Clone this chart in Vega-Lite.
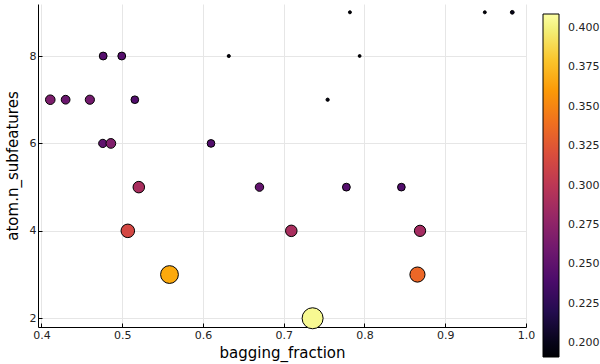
{
  "$schema": "https://vega.github.io/schema/vega-lite/v6.json",
  "autosize": "none",
  "width": 488,
  "height": 323,
  "padding": {"left": 38, "top": 4, "right": 74, "bottom": 37},
  "background": "white",
  "config": {
    "font": "DejaVu Sans",
    "view": {"stroke": null},
    "axis": {
      "domainColor": "black",
      "domainWidth": 1,
      "gridColor": "#e6e6e6",
      "gridWidth": 1,
      "tickColor": "black",
      "labelColor": "#222222",
      "labelFontSize": 11,
      "titleFontSize": 15,
      "titleFontWeight": "normal",
      "titleColor": "black"
    }
  },
  "data": {
    "values": [
      {"bagging_fraction": 0.4765, "n_subfeatures": 8, "loss": 0.245},
      {"bagging_fraction": 0.4995, "n_subfeatures": 8, "loss": 0.245},
      {"bagging_fraction": 0.632, "n_subfeatures": 8, "loss": 0.197},
      {"bagging_fraction": 0.411, "n_subfeatures": 7, "loss": 0.266},
      {"bagging_fraction": 0.430, "n_subfeatures": 7, "loss": 0.256},
      {"bagging_fraction": 0.460, "n_subfeatures": 7, "loss": 0.261},
      {"bagging_fraction": 0.5157, "n_subfeatures": 7, "loss": 0.243},
      {"bagging_fraction": 0.476, "n_subfeatures": 6, "loss": 0.250},
      {"bagging_fraction": 0.486, "n_subfeatures": 6, "loss": 0.268},
      {"bagging_fraction": 0.610, "n_subfeatures": 6, "loss": 0.243},
      {"bagging_fraction": 0.782, "n_subfeatures": 9, "loss": 0.196},
      {"bagging_fraction": 0.794, "n_subfeatures": 8, "loss": 0.195},
      {"bagging_fraction": 0.7544, "n_subfeatures": 7, "loss": 0.198},
      {"bagging_fraction": 0.949, "n_subfeatures": 9, "loss": 0.196},
      {"bagging_fraction": 0.983, "n_subfeatures": 9, "loss": 0.202},
      {"bagging_fraction": 0.5206, "n_subfeatures": 5, "loss": 0.290},
      {"bagging_fraction": 0.670, "n_subfeatures": 5, "loss": 0.252},
      {"bagging_fraction": 0.7776, "n_subfeatures": 5, "loss": 0.245},
      {"bagging_fraction": 0.8457, "n_subfeatures": 5, "loss": 0.243},
      {"bagging_fraction": 0.507, "n_subfeatures": 4, "loss": 0.315},
      {"bagging_fraction": 0.7094, "n_subfeatures": 4, "loss": 0.290},
      {"bagging_fraction": 0.8688, "n_subfeatures": 4, "loss": 0.287},
      {"bagging_fraction": 0.5586, "n_subfeatures": 3, "loss": 0.367},
      {"bagging_fraction": 0.8656, "n_subfeatures": 3, "loss": 0.335},
      {"bagging_fraction": 0.7358, "n_subfeatures": 2, "loss": 0.405}
    ]
  },
  "mark": {"type": "point", "shape": "circle", "filled": true, "opacity": 1, "stroke": "black", "strokeWidth": 1},
  "encoding": {
    "x": {
      "field": "bagging_fraction", "type": "quantitative",
      "scale": {"domain": [0.3958, 1.0], "nice": false, "zero": false},
      "axis": {"title": "bagging_fraction", "values": [0.4, 0.5, 0.6, 0.7, 0.8, 0.9, 1.0], "format": ".1f", "tickSize": -4, "labelPadding": 6, "titlePadding": 5, "labelFlush": false}
    },
    "y": {
      "field": "n_subfeatures", "type": "quantitative",
      "scale": {"domain": [1.8, 9.19], "nice": false, "zero": false},
      "axis": {"title": "atom.n_subfeatures", "values": [2, 4, 6, 8], "tickSize": -4, "labelPadding": 6, "titlePadding": 9, "labelFlush": false}
    },
    "color": {
      "field": "loss", "type": "quantitative",
      "scale": {"scheme": "inferno", "domain": [0.191, 0.409], "nice": false, "zero": false},
      "legend": {
        "title": null,
        "orient": "none",
        "legendX": 505,
        "legendY": 10,
        "direction": "vertical",
        "gradientLength": 343,
        "gradientThickness": 16,
        "gradientStrokeColor": "black",
        "gradientStrokeWidth": 1,
        "values": [0.2, 0.225, 0.25, 0.275, 0.3, 0.325, 0.35, 0.375, 0.4],
        "format": ".3f",
        "labelFontSize": 11,
        "labelColor": "#222222",
        "labelOffset": 9,
        "labelOverlap": false
      }
    },
    "size": {
      "field": "loss", "type": "quantitative",
      "scale": {"type": "pow", "exponent": 3, "domain": [0.19, 0.41], "range": [4, 460], "zero": false},
      "legend": null
    }
  }
}
